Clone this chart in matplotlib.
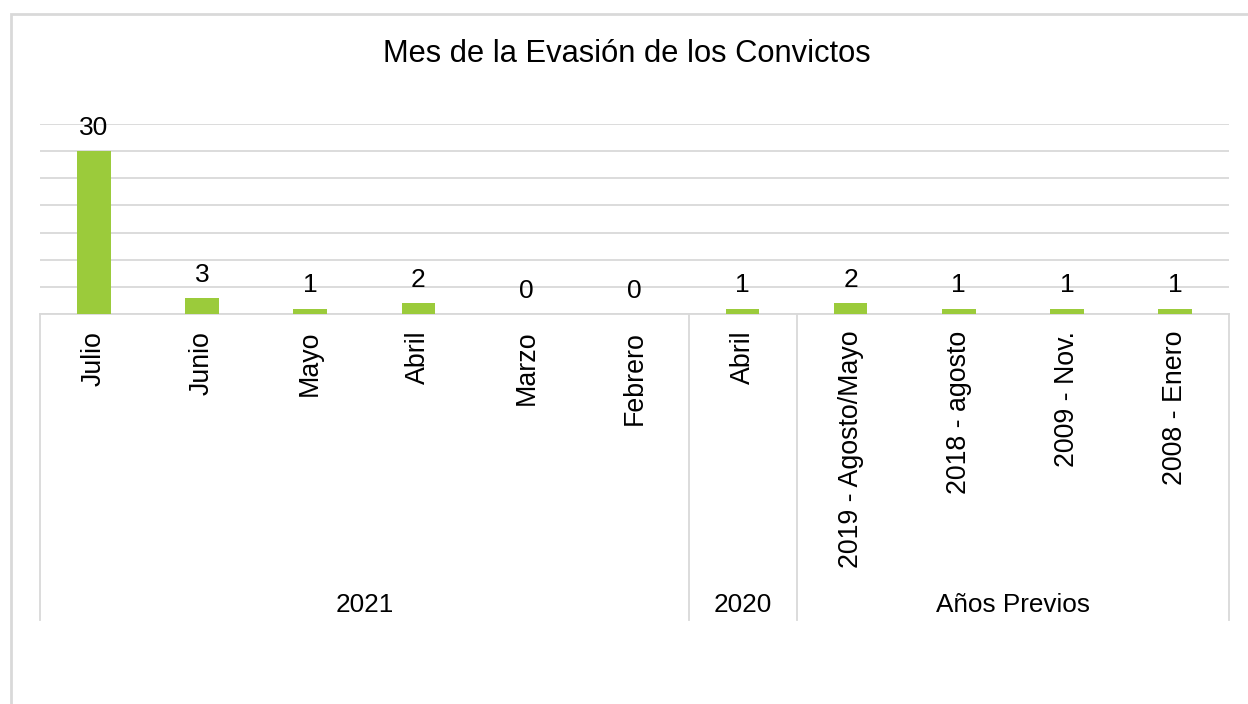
import matplotlib
matplotlib.use("Agg")
import matplotlib.pyplot as plt
from matplotlib.patches import Rectangle
from matplotlib.transforms import blended_transform_factory

# datos
meses = ["Julio", "Junio", "Mayo", "Abril", "Marzo", "Febrero",
         "Abril",
         "2019 - Agosto/Mayo", "2018 - agosto", "2009 - Nov.", "2008 - Enero"]
evasiones = [30, 3, 1, 2, 0, 0, 1, 2, 1, 1, 1]
grupos = ["2021", "2020", "Años Previos"]
tam_grupos = [6, 1, 4]

VERDE = "#9BCB3B"
GRIS = "#D9D9D9"

plt.rcParams["font.family"] = ["Liberation Sans", "DejaVu Sans"]

fig = plt.figure(figsize=(12.48, 7.04), dpi=100)
W, H = 1248, 704
ax = fig.add_axes([40 / W, 1 - 314 / H, (1229 - 40) / W, 190 / H])

# borde exterior del grafico (solo se ven arriba e izquierda)
fig.patches.append(Rectangle((11 / W, -0.1), 1.2, 1 - 14 / H + 0.1,
                             transform=fig.transFigure, fill=False,
                             edgecolor=GRIS, linewidth=2))

x = list(range(len(meses)))
ax.bar(x, evasiones, width=0.31, color=VERDE, zorder=3)
for xi, v in zip(x, evasiones):
    ax.annotate(str(v), (xi, v), xytext=(0, 8), textcoords="offset points",
                ha="center", va="bottom", fontsize=19)

ax.set_xlim(-0.5, len(meses) - 0.5)
ax.set_ylim(0, 35)
ax.set_yticks(range(0, 36, 5))
ax.set_yticklabels([])
ax.tick_params(axis="y", length=0)
ax.grid(axis="y", color=GRIS, linewidth=1.3, zorder=0)
for s in ["left", "right", "top"]:
    ax.spines[s].set_visible(False)
ax.spines["bottom"].set_color(GRIS)
ax.spines["bottom"].set_linewidth(1.3)

ax.set_xticks(x)
ax.set_xticklabels(meses, rotation=90, fontsize=19.3, va="top", ha="center")
ax.tick_params(axis="x", length=0, pad=12)

# categorias agrupadas
tr = blended_transform_factory(ax.transData, ax.transAxes)
y_fondo = -(620 - 314) / 190
y_grupo = -(605 - 314) / 190
inicio = -0.5
ax.plot([inicio, inicio], [0, y_fondo], transform=tr, color=GRIS,
        linewidth=1.3, clip_on=False)
for nombre, n in zip(grupos, tam_grupos):
    fin = inicio + n
    ax.plot([fin, fin], [0, y_fondo], transform=tr, color=GRIS,
            linewidth=1.3, clip_on=False)
    ax.text((inicio + fin) / 2, y_grupo, nombre, transform=tr,
            ha="center", va="center", fontsize=18.8)
    inicio = fin

fig.text(627 / W, 1 - 54 / H, "Mes de la Evasión de los Convictos",
         ha="center", va="center", fontsize=22.2)

fig.savefig("out.png", dpi=100)
